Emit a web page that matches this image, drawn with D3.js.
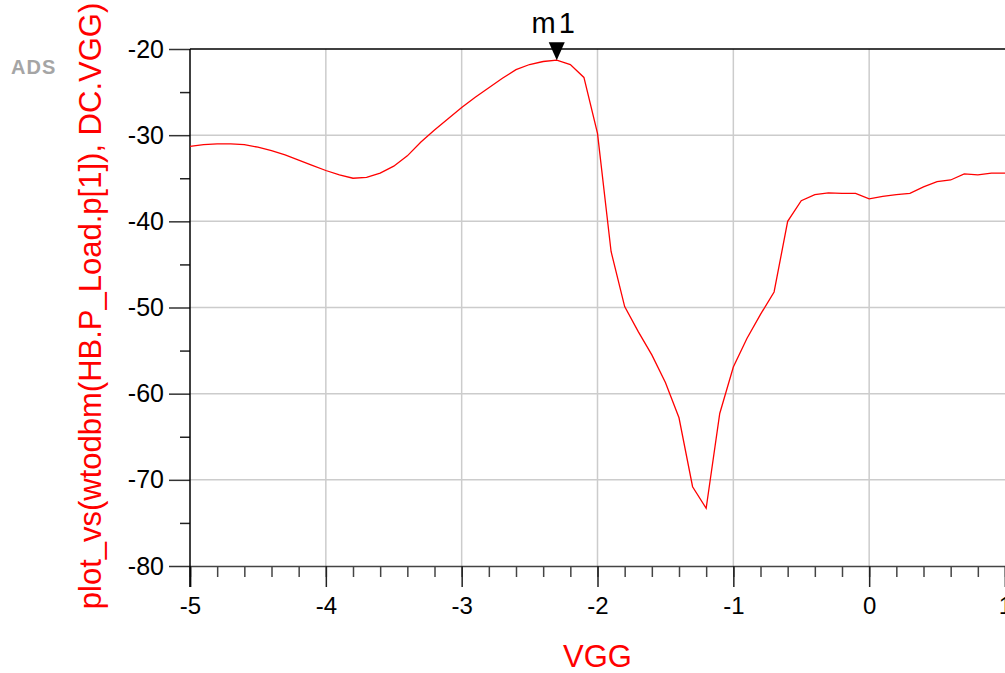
<!DOCTYPE html>
<html>
<head>
  <meta charset="utf-8">
  <style>
    body { margin: 0; background: #fff; }
    text { font-family: Arial, "Liberation Sans", sans-serif; }
  </style>
</head>
<body>
<svg id="chart" width="1005" height="673"></svg>
<script src="https://d3js.org/d3.v7.min.js"></script>
<script>
// VGG sweep, step 0.1
var vgg = d3.range(-50, 11).map(function(i) { return i / 10; });
var pload = [
  -31.3, -31.1, -31.0, -31.0, -31.1, -31.4, -31.8, -32.3, -32.9, -33.5,
  -34.1, -34.6, -35.0, -34.9, -34.4, -33.6, -32.4, -30.8, -29.4, -28.1,
  -26.8, -25.6, -24.5, -23.4, -22.4, -21.8, -21.45, -21.3, -21.8, -23.3,
  -29.8, -43.5, -49.9, -52.8, -55.5, -58.7, -62.8, -70.8, -73.3, -62.3,
  -56.9, -53.6, -50.8, -48.2, -40.0, -37.6, -36.9, -36.7, -36.75, -36.75,
  -37.4, -37.1, -36.9, -36.75, -36.0, -35.4, -35.2, -34.5, -34.6, -34.4,
  -34.4
];
var xTicks = [-5, -4, -3, -2, -1, 0, 1];
var xMinor = d3.range(-50, 11, 2).map(function(i) { return i / 10; });
var yTicks = [-80, -70, -60, -50, -40, -30, -20];
var yMinor = [-75, -65, -55, -45, -35, -25];
var marker = {name: "m1", x: -2.3, y: -21.3};

var svg = d3.select("#chart");

var x = d3.scaleLinear().domain([-5, 1]).range([190, 1005]);
var y = d3.scaleLinear().domain([-80, -20]).range([566, 49]);

// grid
svg.append("g").selectAll("line")
    .data(xTicks.slice(1, -1))
    .enter().append("line")
      .attr("x1", function(d) { return x(d); })
      .attr("x2", function(d) { return x(d); })
      .attr("y1", y(-20)).attr("y2", y(-80))
      .attr("stroke", "#cccccc").attr("stroke-width", 1.5);

svg.append("g").selectAll("line")
    .data(yTicks.slice(1, -1))
    .enter().append("line")
      .attr("x1", x(-5)).attr("x2", x(1))
      .attr("y1", function(d) { return y(d); })
      .attr("y2", function(d) { return y(d); })
      .attr("stroke", "#cccccc").attr("stroke-width", 1.5);

// x axis
var xMin = svg.append("g")
    .attr("transform", "translate(0," + y(-80) + ")")
    .call(d3.axisBottom(x).tickValues(xMinor).tickSize(11).tickFormat(""));
xMin.select(".domain").remove();
xMin.selectAll("line").attr("stroke", "#444").attr("stroke-width", 1.5);

var xAx = svg.append("g")
    .attr("transform", "translate(0," + y(-80) + ")")
    .call(d3.axisBottom(x).tickValues(xTicks).tickSize(21).tickPadding(10)
      .tickFormat(function(d) { return d < 0 ? "-" + Math.abs(d) : d; }));
xAx.select(".domain").attr("stroke", "#444").attr("stroke-width", 1.5);
xAx.selectAll("line").attr("stroke", "#222").attr("stroke-width", 1.5);
xAx.selectAll("text").attr("font-size", 24).attr("fill", "#000")
    .style("font-family", "Arial, 'Liberation Sans', sans-serif");

// y axis
var yMin = svg.append("g")
    .attr("transform", "translate(" + x(-5) + ",0)")
    .call(d3.axisLeft(y).tickValues(yMinor).tickSize(10).tickFormat(""));
yMin.select(".domain").remove();
yMin.selectAll("line").attr("stroke", "#222").attr("stroke-width", 1.5);

var yAx = svg.append("g")
    .attr("transform", "translate(" + x(-5) + ",0)")
    .call(d3.axisLeft(y).tickValues(yTicks).tickSize(21).tickPadding(5)
      .tickFormat(function(d) { return "-" + Math.abs(d); }));
yAx.select(".domain").remove();
yAx.selectAll("line").attr("stroke", "#333").attr("stroke-width", 1.5);
yAx.selectAll("text").attr("font-size", 25).attr("fill", "#000")
    .style("font-family", "Arial, 'Liberation Sans', sans-serif");

// frame: left and top
svg.append("line")
    .attr("x1", x(-5)).attr("x2", x(-5))
    .attr("y1", y(-20)).attr("y2", y(-80) + 21)
    .attr("stroke", "#000").attr("stroke-width", 1.5);
svg.append("line")
    .attr("x1", x(-5)).attr("x2", x(1))
    .attr("y1", y(-20)).attr("y2", y(-20))
    .attr("stroke", "#000").attr("stroke-width", 1.5);

// trace
var line = d3.line()
    .x(function(d, i) { return x(vgg[i]); })
    .y(function(d) { return y(d); });

svg.append("path")
    .datum(pload)
    .attr("d", line)
    .attr("fill", "none")
    .attr("stroke", "#ff0000")
    .attr("stroke-width", 1.3);

// marker m1
var mx = x(marker.x), my = y(marker.y);
svg.append("path")
    .attr("d", "M" + (mx - 8) + "," + (my - 18) + "L" + (mx + 8) + "," + (my - 18) + "L" + mx + "," + my + "Z")
    .attr("fill", "#000");
svg.append("text")
    .attr("x", mx - 2)
    .attr("y", my - 27)
    .attr("text-anchor", "middle")
    .attr("font-size", 29)
    .attr("letter-spacing", 3)
    .text(marker.name);

// axis titles
svg.append("text")
    .attr("x", x(-2))
    .attr("y", 667)
    .attr("text-anchor", "middle")
    .attr("font-size", 31)
    .attr("fill", "#ff0000")
    .text("VGG");

svg.append("text")
    .attr("transform", "translate(101,306) rotate(-90)")
    .attr("text-anchor", "middle")
    .attr("font-size", 31)
    .attr("fill", "#ff0000")
    .text("plot_vs(wtodbm(HB.P_Load.p[1]), DC.VGG)");

// ADS tag
svg.append("text")
    .attr("x", 11)
    .attr("y", 74)
    .attr("font-size", 20)
    .attr("font-weight", "bold")
    .attr("fill", "#a5a5a5")
    .attr("letter-spacing", 1)
    .text("ADS");
</script>
</body>
</html>
